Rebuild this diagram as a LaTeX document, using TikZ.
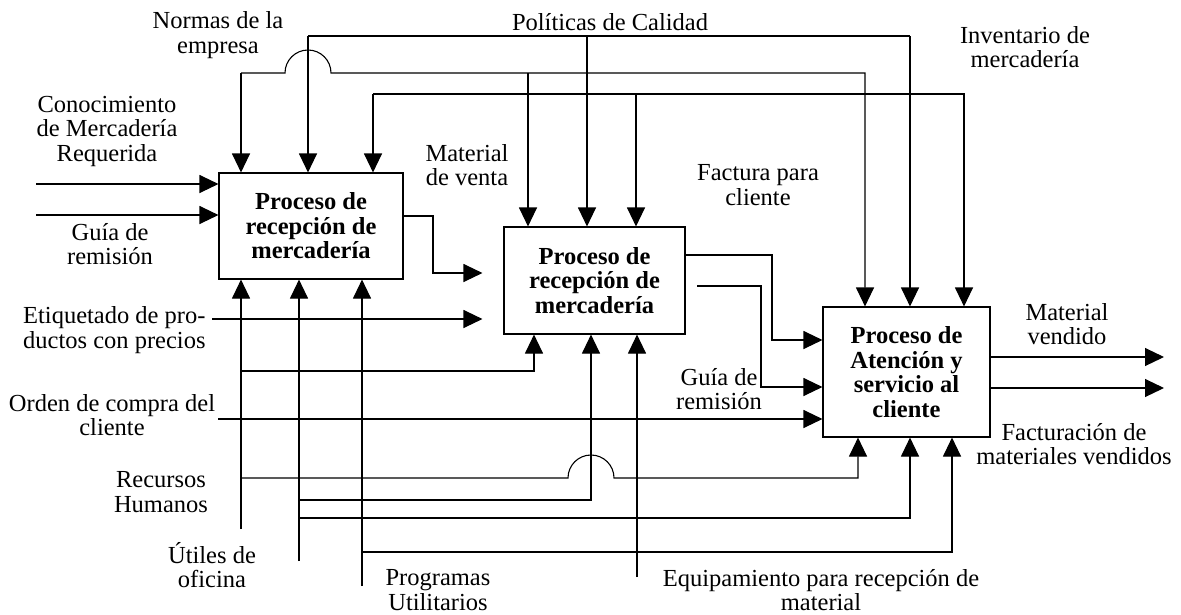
\documentclass[tikz,border=0pt]{standalone}
\usepackage{fontspec}
\setmainfont{Liberation Serif}
\usetikzlibrary{arrows.meta}
\tikzstyle{process} = [rectangle, minimum width=184pt, minimum height=106pt, inner sep=0pt, text centered, align=center, draw=black, line width=1.1pt, font={\fontsize{24.5}{24.5}\selectfont\bfseries}]
\tikzstyle{arrow} = [line width=1.1pt,->,>={Triangle[length=19pt,width=18pt]}]
\tikzstyle{note} = [align=center, inner sep=0pt, font={\fontsize{24.5}{24.5}\selectfont}]

\begin{document}
\begin{tikzpicture}[x=1pt, y=-1pt]
\useasboundingbox (0,0) rectangle (1181,614);

\node (rec1) [process] at (311,226) {Proceso de\\recepción de\\mercadería};
\node (rec2) [process, minimum width=181pt, minimum height=107pt] at (594.5,280.5) {Proceso de\\recepción de\\mercadería};
\node (aten) [process, minimum width=167pt, minimum height=130pt] at (906.5,372) {Proceso de\\Atención y\\servicio al\\cliente};

\node (normas) [note] at (218,35) {Normas de la\\empresa};
\node (politicas) [note] at (610,22) {Políticas de Calidad};
\node (invent) [note] at (1025,47) {Inventario de\\mercadería};
\node (conoc) [note] at (107,131) {Conocimiento\\de Mercadería\\Requerida};
\node (guia1) [note] at (110,244) {Guía de\\remisión};
\node (matvta) [note] at (467,165) {Material\\de venta};
\node (factura) [note] at (758,185) {Factura para\\cliente};
\node (etiq) [note, align=left, anchor=west] at (23,330) {Etiquetado de pro-\\ductos con precios};
\node (orden) [note] at (112,415) {Orden de compra del\\cliente};
\node (recursos) [note] at (161,492) {Recursos\\Humanos};
\node (utiles) [note] at (212,565) {Útiles de\\oficina};
\node (program) [note] at (438,590) {Programas\\Utilitarios};
\node (equipo) [note] at (821,590) {Equipamiento para recepción de\\material};
\node (guia2) [note] at (719,389) {Guía de\\remisión};
\node (matvend) [note] at (1067,324) {Material\\vendido};
\node (factmat) [note] at (1074,444) {Facturación de\\materiales vendidos};

\coordinate (pol1) at (308,36);
\coordinate (pol2) at (587,36);
\coordinate (pol3) at (910,36);
\coordinate (nor1) at (241,73);
\coordinate (nor2) at (528,73);
\coordinate (nor3) at (865,73);
\coordinate (inv1) at (373,94);
\coordinate (inv2) at (636,94);
\coordinate (inv3) at (964,94);
\coordinate (con) at (36,184);
\coordinate (gui) at (36,215);
\coordinate (out1) at (433,216);
\coordinate (out2) at (433,273);
\coordinate (eti) at (212,319);
\coordinate (ord) at (218,419);
\coordinate (fac1) at (772,255);
\coordinate (fac2) at (772,340);
\coordinate (gr1) at (697,286);
\coordinate (gr2) at (761,387);
\coordinate (mven) at (1164,357);
\coordinate (fven) at (1164,388);
\coordinate (rh) at (241,529);
\coordinate (rh1) at (241,371);
\coordinate (rh2) at (534,371);
\coordinate (rh3) at (241,478);
\coordinate (rh4) at (858,478);
\coordinate (uo) at (299,561);
\coordinate (uo1) at (299,500);
\coordinate (uo2) at (591,500);
\coordinate (uo3) at (299,518);
\coordinate (uo4) at (910,518);
\coordinate (pu) at (362,586);
\coordinate (pu1) at (362,552);
\coordinate (pu2) at (952,552);
\coordinate (eq) at (637,577);

\draw [line width=1.1pt] (pol1) -- (pol3);
\draw [arrow] (pol1) -- (pol1 |- rec1.north);
\draw [arrow] (pol2) -- (pol2 |- rec2.north);
\draw [arrow] (pol3) -- (pol3 |- aten.north);
\draw [arrow] (nor1) -- (nor1 |- rec1.north);
\draw [arrow] (nor1) -- ++(44,0) arc[start angle=180, end angle=0, radius=23pt] -- (nor3) -- (nor3 |- aten.north);
\draw [arrow] (nor2) -- (nor2 |- rec2.north);
\draw [arrow] (inv1) -- (inv1 |- rec1.north);
\draw [arrow] (inv1) -- (inv3) -- (inv3 |- aten.north);
\draw [arrow] (inv2) -- (inv2 |- rec2.north);

\draw [arrow] (con) -- (con -| rec1.west);
\draw [arrow] (gui) -- (gui -| rec1.west);
\draw [arrow, shorten >=21pt] (rec1.east |- out1) -- (out1) -- (out2) -- (out2 -| rec2.west);
\draw [arrow, shorten >=21pt] (eti) -- (eti -| rec2.west);
\draw [arrow] (ord) -- (ord -| aten.west);
\draw [arrow] (rec2.east |- fac1) -- (fac1) -- (fac2) -- (fac2 -| aten.west);
\draw [arrow] (gr1) -- (gr1 -| gr2) -- (gr2) -- (gr2 -| aten.west);
\draw [arrow] (aten.east |- mven) -- (mven);
\draw [arrow] (aten.east |- fven) -- (fven);

\draw [arrow] (rh) -- (rh |- rec1.south);
\draw [arrow] (rh1) -- (rh2) -- (rh2 |- rec2.south);
\draw [arrow] (rh3) -- ++(327,0) arc[start angle=180, end angle=0, radius=23pt] -- (rh4) -- (rh4 |- aten.south);
\draw [arrow] (uo) -- (uo |- rec1.south);
\draw [arrow] (uo1) -- (uo2) -- (uo2 |- rec2.south);
\draw [arrow] (uo3) -- (uo4) -- (uo4 |- aten.south);
\draw [arrow] (pu) -- (pu |- rec1.south);
\draw [arrow] (pu1) -- (pu2) -- (pu2 |- aten.south);
\draw [arrow] (eq) -- (eq |- rec2.south);
\end{tikzpicture}
\end{document}
